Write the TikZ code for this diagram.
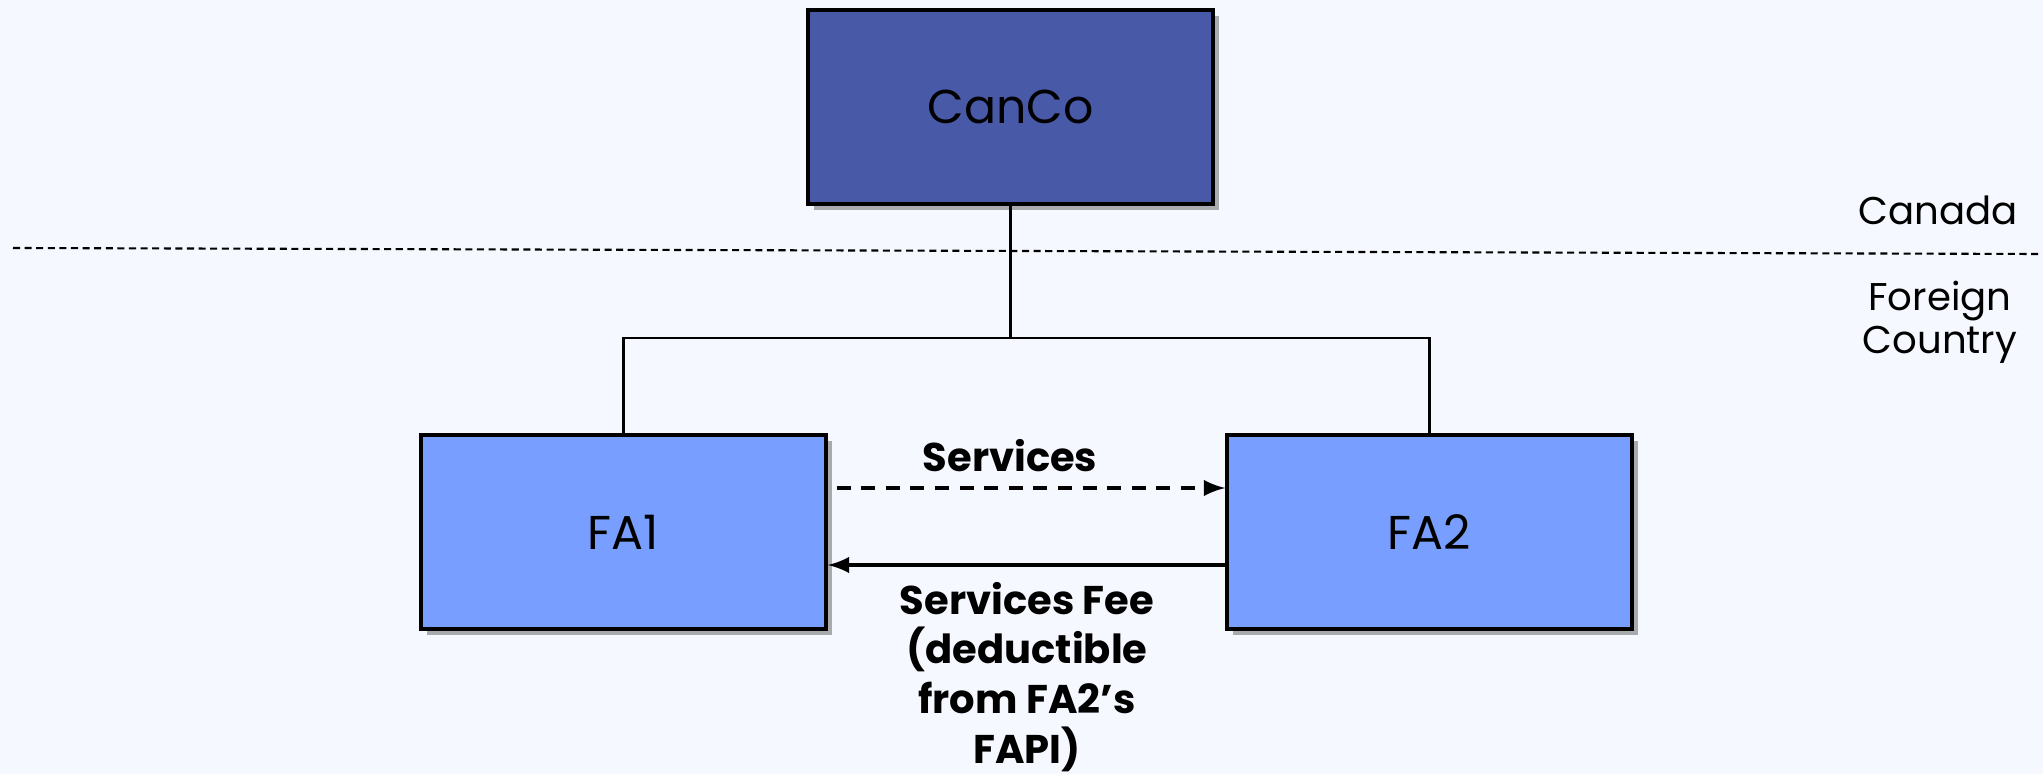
\documentclass[tikz,border=0pt]{standalone}
\usepackage{fontspec}
\setmainfont{Poppins}
\usepackage{xcolor}
\usetikzlibrary{arrows, positioning, shadows, calc}
\definecolor{cancoblue}{HTML}{4859A8}
\definecolor{affblue}{HTML}{789FFF}
\definecolor{pagebg}{HTML}{F5F8FE}
\tikzstyle{entity} = [draw=black, line width=0.9pt, minimum width=4.05cm, minimum height=1.94cm, drop shadow={shadow xshift=0.6mm, shadow yshift=-0.6mm, fill=black!70, opacity=0.45}, font=\fontsize{13.5}{16}\selectfont]
\tikzstyle{flow} = [font=\bfseries\fontsize{11.4}{14.2}\selectfont, align=center]
\tikzstyle{region} = [font=\fontsize{11}{12.2}\selectfont, align=center]

\begin{document}
\begin{tikzpicture}

\fill [pagebg] (0, 0) rectangle (20.43, -7.74);
\useasboundingbox (0, 0) rectangle (20.43, -7.74);

% Companies
\node [entity, fill=cancoblue] (canco) at (10.105, -1.07) {CanCo};
\node [entity, fill=affblue] (fa1) at (6.235, -5.32) {FA1};
\node [entity, fill=affblue] (fa2) at (14.295, -5.32) {FA2};

% Border between the countries
\draw [line width=0.6pt, dash pattern=on 2pt off 1.3pt] (0.13, -2.48) -- (20.40, -2.54);
\node [region] (canada) at (19.38, -2.10) {Canada};
\node [region] (foreign) at (19.40, -3.22) {Foreign\\Country};

% Ownership
\draw [line width=0.6pt] (canco.south) -- ++(0, -1.32) coordinate (split);
\draw [line width=0.6pt] (fa1.north) |- (split) -| (fa2.north);

% Services and fee
\draw [line width=1.1pt, dash pattern=on 4pt off 3pt, ->, >=latex] ([xshift=0.9mm, yshift=4.4mm] fa1.east) -- ([yshift=4.4mm] fa2.west);
\node [flow] (services) at (10.1, -4.56) {Services};
\draw [line width=1.1pt, ->, >=latex] ([yshift=-3.3mm] fa2.west) -- ([yshift=-3.3mm] fa1.east);
\node [flow] (fee) at (10.27, -6.77) {Services Fee\\(deductible\\from FA2’s\\FAPI)};

\end{tikzpicture}
\end{document}
